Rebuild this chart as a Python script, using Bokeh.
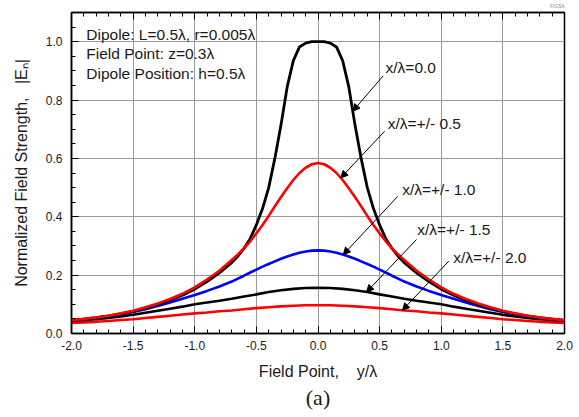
import numpy as np
from bokeh.plotting import figure
from bokeh.models import (Range1d, SingleIntervalTicker, PrintfTickFormatter,
                          LinearAxis, Label, Arrow, NormalHead, Title,
                          CustomLabelingPolicy)
from bokeh.embed import file_html
from bokeh.resources import INLINE

# Observation-point coordinate y/lambda
Y_FINE = [-2.0, -1.9, -1.8, -1.7, -1.6, -1.5, -1.4, -1.3, -1.2, -1.1, -1.0, -0.9, -0.8,
          -0.7, -0.65, -0.6, -0.55, -0.5, -0.45, -0.4, -0.35, -0.3, -0.25, -0.2, -0.15,
          -0.1, -0.05, 0.0, 0.05, 0.1, 0.15, 0.2, 0.25, 0.3, 0.35, 0.4, 0.45, 0.5, 0.55,
          0.6, 0.65, 0.7, 0.8, 0.9, 1.0, 1.1, 1.2, 1.3, 1.4, 1.5, 1.6, 1.7, 1.8, 1.9, 2.0]
Y_COARSE = [-2.0, -1.9, -1.8, -1.7, -1.6, -1.5, -1.4, -1.3, -1.2, -1.1, -1.0, -0.9, -0.8,
            -0.7, -0.6, -0.5, -0.4, -0.3, -0.2, -0.1, 0.0, 0.1, 0.2, 0.3, 0.4, 0.5, 0.6,
            0.7, 0.8, 0.9, 1.0, 1.1, 1.2, 1.3, 1.4, 1.5, 1.6, 1.7, 1.8, 1.9, 2.0]

# Normalized |E_n| for each lateral offset x/lambda (fine grid: 0.0, 0.5, 1.0)
E_X00 = [0.045, 0.049, 0.054, 0.060, 0.067, 0.076, 0.087, 0.099, 0.114, 0.131, 0.152, 0.178,
         0.208, 0.243, 0.265, 0.292, 0.325, 0.372, 0.428, 0.500, 0.600, 0.715, 0.845, 0.935,
         0.982, 0.995, 1.000, 1.000, 1.000, 0.995, 0.982, 0.935, 0.845, 0.715, 0.600, 0.500,
         0.428, 0.372, 0.325, 0.292, 0.265, 0.243, 0.208, 0.178, 0.152, 0.131, 0.114, 0.099,
         0.087, 0.076, 0.067, 0.060, 0.054, 0.049, 0.045]
E_X05 = [0.045, 0.050, 0.055, 0.061, 0.069, 0.078, 0.090, 0.103, 0.118, 0.136, 0.158, 0.185,
         0.215, 0.252, 0.271, 0.292, 0.316, 0.343, 0.372, 0.403, 0.436, 0.468, 0.498, 0.526,
         0.550, 0.568, 0.580, 0.584, 0.580, 0.568, 0.550, 0.526, 0.498, 0.468, 0.436, 0.403,
         0.372, 0.343, 0.316, 0.292, 0.271, 0.252, 0.215, 0.185, 0.158, 0.136, 0.118, 0.103,
         0.090, 0.078, 0.069, 0.061, 0.055, 0.050, 0.045]
E_X10 = [0.045, 0.049, 0.053, 0.059, 0.066, 0.074, 0.083, 0.094, 0.106, 0.119, 0.132, 0.146,
         0.161, 0.178, 0.188, 0.198, 0.209, 0.219, 0.229, 0.238, 0.247, 0.256, 0.264, 0.271,
         0.277, 0.281, 0.284, 0.285, 0.284, 0.281, 0.277, 0.271, 0.264, 0.256, 0.247, 0.238,
         0.229, 0.219, 0.209, 0.198, 0.188, 0.178, 0.161, 0.146, 0.132, 0.119, 0.106, 0.094,
         0.083, 0.074, 0.066, 0.059, 0.053, 0.049, 0.045]
E_X15 = [0.043, 0.046, 0.049, 0.053, 0.058, 0.064, 0.071, 0.078, 0.085, 0.092, 0.100, 0.106,
         0.112, 0.119, 0.127, 0.134, 0.142, 0.148, 0.153, 0.156, 0.157, 0.156, 0.153, 0.148,
         0.142, 0.134, 0.127, 0.119, 0.112, 0.106, 0.100, 0.092, 0.085, 0.078, 0.071, 0.064,
         0.058, 0.053, 0.049, 0.046, 0.043]
E_X20 = [0.036, 0.038, 0.040, 0.043, 0.046, 0.049, 0.053, 0.057, 0.061, 0.065, 0.069, 0.072,
         0.076, 0.079, 0.083, 0.087, 0.090, 0.093, 0.095, 0.097, 0.097, 0.097, 0.095, 0.093,
         0.090, 0.087, 0.083, 0.079, 0.076, 0.072, 0.069, 0.065, 0.061, 0.057, 0.053, 0.049,
         0.046, 0.043, 0.040, 0.038, 0.036]

CURVE_LABELS = ["x/\u03bb=0.0", "x/\u03bb=+/- 0.5", "x/\u03bb=+/- 1.0",
                "x/\u03bb=+/- 1.5", "x/\u03bb=+/- 2.0"]
INFO_LINES = ["Dipole: L=0.5\u03bb, r=0.005\u03bb", "Field Point: z=0.3\u03bb",
              "Dipole Position: h=0.5\u03bb"]
NB = "\u00a0"

FONT = "Liberation Sans"
TXT = "#1a1a1a"

p = figure(width=579, height=417, x_range=Range1d(-2, 2), y_range=Range1d(0, 1.1),
           output_backend="svg", toolbar_location=None,
           min_border_left=71, min_border_right=15, min_border_top=11, min_border_bottom=84)
p.background_fill_color = "white"
p.border_fill_color = "white"
p.outline_line_color = "black"
p.outline_line_width = 1.5

xt = SingleIntervalTicker(interval=0.5, num_minor_ticks=5)
yt = SingleIntervalTicker(interval=0.2, num_minor_ticks=4)

for ax in (p.xaxis[0], p.yaxis[0]):
    ax.axis_line_width = 1.5
    ax.major_tick_in = 7
    ax.major_tick_out = 0
    ax.minor_tick_in = 4
    ax.minor_tick_out = 0
    ax.major_tick_line_width = 1
    ax.minor_tick_line_width = 1
    ax.major_label_text_font = FONT
    ax.major_label_text_font_size = "12px"
    ax.major_label_text_color = TXT
    ax.axis_label_text_font = FONT
    ax.axis_label_text_font_size = "16px"
    ax.axis_label_text_font_style = "normal"
    ax.axis_label_text_color = TXT
    ax.formatter = PrintfTickFormatter(format="%.1f")

p.xaxis[0].ticker = xt
p.yaxis[0].ticker = yt
p.xaxis[0].major_label_standoff = 7
p.yaxis[0].major_label_standoff = 9
p.xaxis[0].axis_label = "Field Point," + NB * 4 + "y/\u03bb"
p.xaxis[0].axis_label_standoff = 10
p.yaxis[0].axis_label = "Normalized Field Strength," + NB * 3 + "|E\u2099|"
p.yaxis[0].axis_label_standoff = 13

# Tick marks along the top edge only (labels suppressed)
no_labels = CustomLabelingPolicy(code="""
    const n = indices.size
    for (let i = 0; i < n; i++) indices.unset(i)
    return indices
""")
top = LinearAxis(ticker=xt, major_label_policy=no_labels, major_label_standoff=0,
                 major_label_text_font_size="1px",
                 axis_line_width=1.5, major_tick_in=7, major_tick_out=0,
                 minor_tick_in=4, minor_tick_out=0)
p.add_layout(top, "above")

p.xgrid.ticker = xt
p.ygrid.ticker = yt
p.xgrid.grid_line_color = "#9a9a9a"
p.ygrid.grid_line_color = "#9a9a9a"
p.xgrid.grid_line_width = 1
p.ygrid.grid_line_width = 1

# Curves, farthest offsets drawn first
p.line(Y_COARSE, E_X20, line_color="#ff0000", line_width=2.6)
p.line(Y_COARSE, E_X15, line_color="black", line_width=2.6)
p.line(Y_FINE, E_X10, line_color="#0000ff", line_width=2.6)
p.line(Y_FINE, E_X00, line_color="black", line_width=2.8)
p.line(Y_FINE, E_X05, line_color="#ff0000", line_width=2.6)

# Callouts: label anchor, arrow tail, and the y/lambda where the arrow meets its curve
series = [(Y_FINE, E_X00), (Y_FINE, E_X05), (Y_FINE, E_X10),
          (Y_COARSE, E_X15), (Y_COARSE, E_X20)]
label_pos = [(0.548, 0.911), (0.566, 0.720), (0.683, 0.493), (0.805, 0.356), (1.097, 0.259)]
tail_pos = [(0.529, 0.883), (0.540, 0.693), (0.647, 0.470), (0.799, 0.322), (1.061, 0.248)]
tip_y = [0.282, 0.185, 0.205, 0.394, 0.685]

for (ys, es), txt, (lx, ly), (tx, ty), ty0 in zip(series, CURVE_LABELS, label_pos, tail_pos, tip_y):
    tip_v = float(np.interp(ty0, ys, es))
    p.add_layout(Arrow(end=NormalHead(size=7, fill_color="black", line_color="black", line_width=1),
                       x_start=tx, y_start=ty, x_end=ty0, y_end=tip_v,
                       line_color="black", line_width=1))
    p.add_layout(Label(x=lx, y=ly, text=txt, text_font=FONT, text_font_size="15.5px",
                       text_color=TXT, text_baseline="middle", text_align="left"))

# Parameter block in the upper-left corner
for i, line in enumerate(INFO_LINES):
    p.add_layout(Label(x=-1.88, y=1.024 - i * 0.066, text=line, text_font=FONT,
                       text_font_size="15.5px", text_color=TXT, text_baseline="middle",
                       text_align="left"))

# Figure tag above the frame and panel caption below the axis
p.add_layout(Title(text="FIG5A", align="right", text_font=FONT, text_font_size="5px",
                   text_font_style="normal", text_color="#888888", standoff=0), "above")
p.add_layout(Title(text="(a)", align="center", text_font="Liberation Serif",
                   text_font_size="22px", text_font_style="normal", text_color=TXT,
                   standoff=0), "below")

open("out.html", "w").write(file_html(p, INLINE))
